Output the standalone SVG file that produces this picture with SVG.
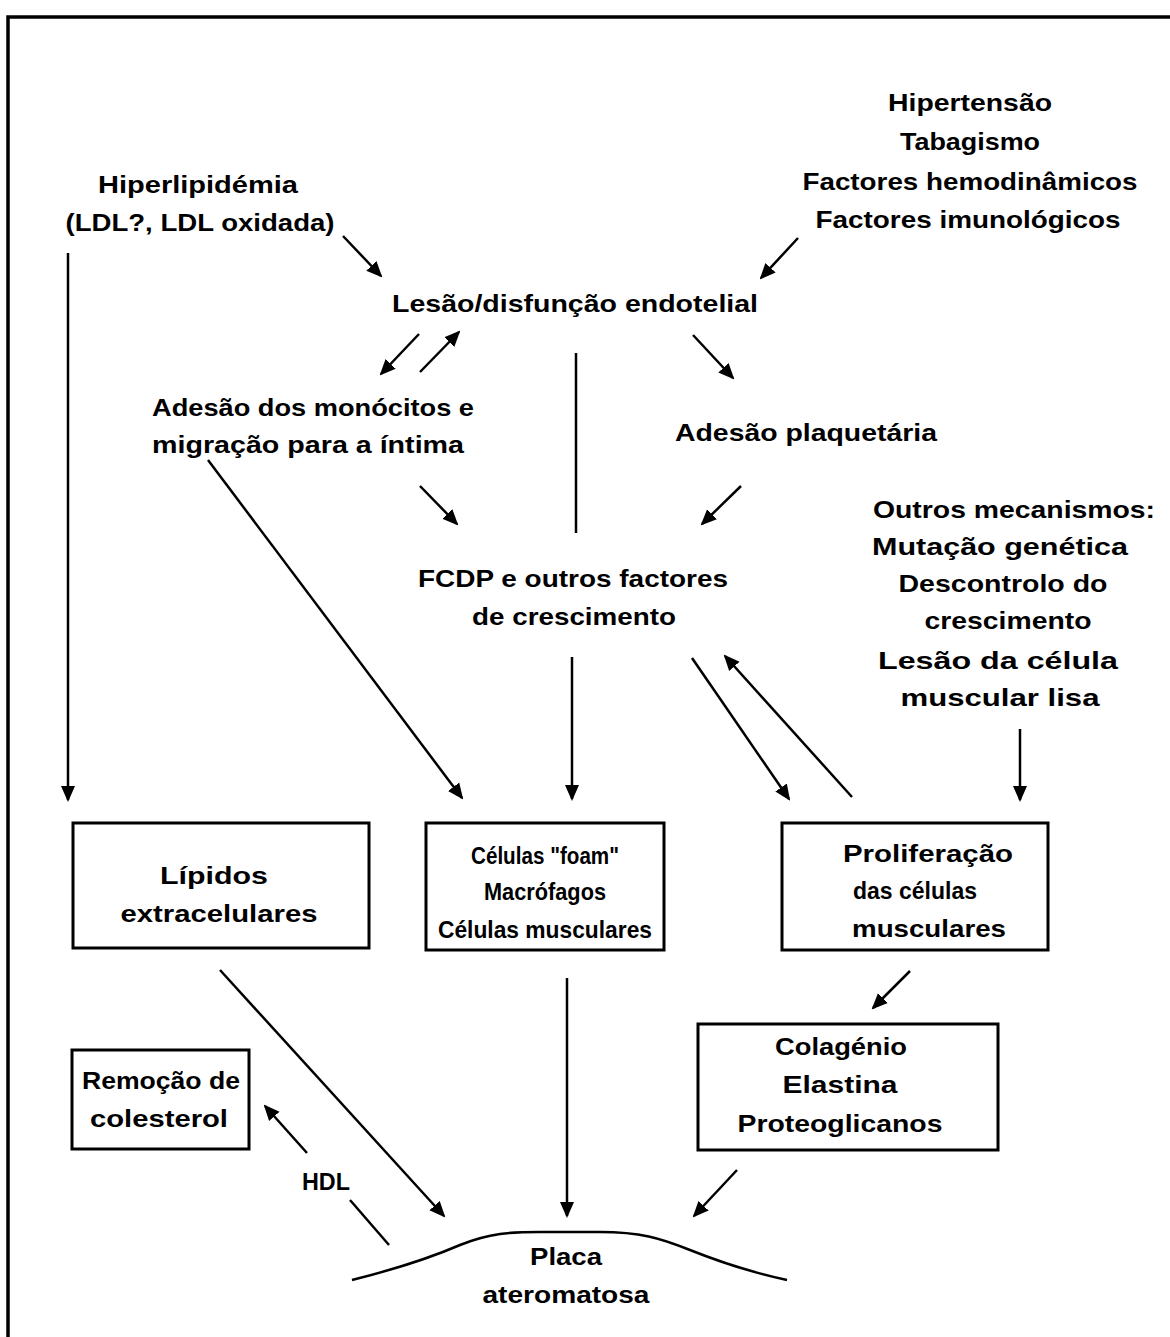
<svg xmlns="http://www.w3.org/2000/svg" width="1170" height="1337" viewBox="0 0 1170 1337">
<style>
text{font-family:"Liberation Sans",Arial,sans-serif;font-weight:bold;font-size:24px;fill:#000;text-anchor:middle}
.box{fill:none;stroke:#000;stroke-width:3}
.c{fill:none;stroke:#000;stroke-width:2.5}
.b{fill:none;stroke:#000;stroke-width:3.5}
</style>
<defs>
<marker id="ah" markerUnits="userSpaceOnUse" markerWidth="16" markerHeight="16" viewBox="0 0 16 16" refX="14" refY="8" orient="auto">
<path d="M0,1 L16,8 L0,15 Z" fill="#000"/>
</marker>
</defs>
<rect width="1170" height="1337" fill="#fff"/>
<g id="border">
<path class="b" d="M1170,17 L8,17 L8,1337"/>
</g>
<g id="hiperlipidemia">
<text x="198" y="193" textLength="200" lengthAdjust="spacingAndGlyphs">Hiperlipidémia</text>
<text x="200" y="231" textLength="269" lengthAdjust="spacingAndGlyphs">(LDL?, LDL oxidada)</text>
</g>
<g id="factores">
<text x="970" y="111" textLength="164" lengthAdjust="spacingAndGlyphs">Hipertensão</text>
<text x="970" y="150" textLength="140" lengthAdjust="spacingAndGlyphs">Tabagismo</text>
<text x="970" y="190" textLength="335" lengthAdjust="spacingAndGlyphs">Factores hemodinâmicos</text>
<text x="968" y="228" textLength="305" lengthAdjust="spacingAndGlyphs">Factores imunológicos</text>
</g>
<g id="lesao">
<text x="575" y="312" textLength="366" lengthAdjust="spacingAndGlyphs">Lesão/disfunção endotelial</text>
</g>
<g id="adesao-monocitos">
<text x="313" y="416" textLength="322" lengthAdjust="spacingAndGlyphs">Adesão dos monócitos e</text>
<text x="308" y="453" textLength="312" lengthAdjust="spacingAndGlyphs">migração para a íntima</text>
</g>
<g id="adesao-plaquetaria">
<text x="806" y="441" textLength="262" lengthAdjust="spacingAndGlyphs">Adesão plaquetária</text>
</g>
<g id="outros">
<text x="1014" y="518" textLength="282" lengthAdjust="spacingAndGlyphs">Outros mecanismos:</text>
<text x="1000" y="555" textLength="256" lengthAdjust="spacingAndGlyphs">Mutação genética</text>
<text x="1003" y="592" textLength="209" lengthAdjust="spacingAndGlyphs">Descontrolo do</text>
<text x="1008" y="629" textLength="167" lengthAdjust="spacingAndGlyphs">crescimento</text>
<text x="998" y="669" textLength="240" lengthAdjust="spacingAndGlyphs">Lesão da célula</text>
<text x="1000" y="706" textLength="199" lengthAdjust="spacingAndGlyphs">muscular lisa</text>
</g>
<g id="fcdp">
<text x="573" y="587" textLength="310" lengthAdjust="spacingAndGlyphs">FCDP e outros factores</text>
<text x="574" y="625" textLength="204" lengthAdjust="spacingAndGlyphs">de crescimento</text>
</g>
<g id="lipidos">
<rect class="box" x="73" y="823" width="296" height="125"/>
<text x="214" y="884" textLength="108" lengthAdjust="spacingAndGlyphs">Lípidos</text>
<text x="219" y="922" textLength="197" lengthAdjust="spacingAndGlyphs">extracelulares</text>
</g>
<g id="celulas">
<rect class="box" x="426" y="823" width="238" height="127"/>
<text x="545" y="864" textLength="148" lengthAdjust="spacingAndGlyphs">Células "foam"</text>
<text x="545" y="900" textLength="122" lengthAdjust="spacingAndGlyphs">Macrófagos</text>
<text x="545" y="938" textLength="214" lengthAdjust="spacingAndGlyphs">Células musculares</text>
</g>
<g id="proliferacao">
<rect class="box" x="782" y="823" width="266" height="127"/>
<text x="928" y="862" textLength="170" lengthAdjust="spacingAndGlyphs">Proliferação</text>
<text x="915" y="899" textLength="124" lengthAdjust="spacingAndGlyphs">das células</text>
<text x="929" y="937" textLength="154" lengthAdjust="spacingAndGlyphs">musculares</text>
</g>
<g id="colagenio">
<rect class="box" x="698" y="1024" width="300" height="126"/>
<text x="841" y="1055" textLength="132" lengthAdjust="spacingAndGlyphs">Colagénio</text>
<text x="840" y="1093" textLength="115" lengthAdjust="spacingAndGlyphs">Elastina</text>
<text x="840" y="1132" textLength="205" lengthAdjust="spacingAndGlyphs">Proteoglicanos</text>
</g>
<g id="remocao">
<rect class="box" x="72" y="1050" width="177" height="99"/>
<text x="161" y="1089" textLength="158" lengthAdjust="spacingAndGlyphs">Remoção de</text>
<text x="159" y="1127" textLength="138" lengthAdjust="spacingAndGlyphs">colesterol</text>
</g>
<g id="placa">
<path class="c" d="M352,1280 C400,1268 430,1258 460,1245 C490,1233 510,1232 540,1232 L600,1232 C640,1232 660,1238 690,1250 C720,1262 750,1272 787,1280"/>
<text x="566" y="1265" textLength="72" lengthAdjust="spacingAndGlyphs">Placa</text>
<text x="566" y="1303" textLength="167" lengthAdjust="spacingAndGlyphs">ateromatosa</text>
</g>
<g id="connectors">
<line class="c" x1="68" y1="253" x2="68" y2="800" marker-end="url(#ah)"/>
<line class="c" x1="343" y1="236" x2="381" y2="276" marker-end="url(#ah)"/>
<line class="c" x1="798" y1="238" x2="761" y2="278" marker-end="url(#ah)"/>
<line class="c" x1="419" y1="334" x2="381" y2="374" marker-end="url(#ah)"/>
<line class="c" x1="420" y1="372" x2="459" y2="332" marker-end="url(#ah)"/>
<line class="c" x1="576" y1="353" x2="576" y2="533"/>
<line class="c" x1="693" y1="335" x2="733" y2="378" marker-end="url(#ah)"/>
<line class="c" x1="420" y1="486" x2="457" y2="524" marker-end="url(#ah)"/>
<line class="c" x1="741" y1="486" x2="702" y2="524" marker-end="url(#ah)"/>
<line class="c" x1="208" y1="460" x2="462" y2="798" marker-end="url(#ah)"/>
<line class="c" x1="572" y1="657" x2="572" y2="799" marker-end="url(#ah)"/>
<line class="c" x1="692" y1="658" x2="789" y2="799" marker-end="url(#ah)"/>
<line class="c" x1="852" y1="797" x2="725" y2="656" marker-end="url(#ah)"/>
<line class="c" x1="1020" y1="729" x2="1020" y2="800" marker-end="url(#ah)"/>
<line class="c" x1="910" y1="971" x2="873" y2="1008" marker-end="url(#ah)"/>
<line class="c" x1="737" y1="1170" x2="694" y2="1216" marker-end="url(#ah)"/>
<line class="c" x1="567" y1="978" x2="567" y2="1216" marker-end="url(#ah)"/>
<line class="c" x1="220" y1="970" x2="444" y2="1216" marker-end="url(#ah)"/>
<line class="c" x1="307" y1="1153" x2="265" y2="1106" marker-end="url(#ah)"/>
<line class="c" x1="350" y1="1200" x2="389" y2="1245"/>
<text x="326" y="1190" textLength="48" lengthAdjust="spacingAndGlyphs">HDL</text>
</g>
</svg>
